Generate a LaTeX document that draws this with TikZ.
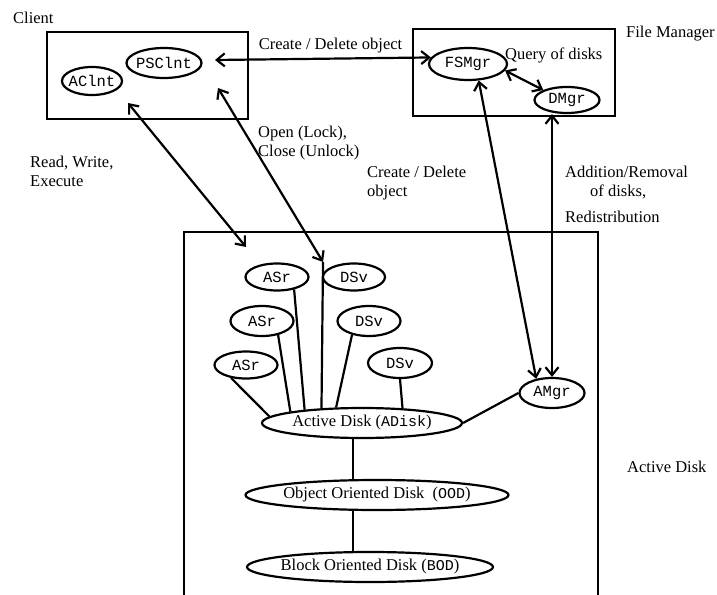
\documentclass[tikz,border=0pt]{standalone}
\usepackage{fontspec}
\setmainfont{Liberation Serif}
\setmonofont{Liberation Mono}
\usepackage{tikz}
\usetikzlibrary{arrows.meta, shapes.geometric}
\usetikzlibrary{calc}

\newcommand{\tcode}[1]{{\fontsize{15bp}{17bp}\ttfamily #1}}

\begin{document}
\begin{tikzpicture}[x=1bp, y=-1bp,
        txt/.style={font=\fontsize{16.5bp}{19.5bp}\selectfont},
        lbl/.style={txt, anchor=base west, inner sep=0pt},
        note/.style={txt, anchor=north west, align=left, inner sep=0pt},
        proc/.style={ellipse, draw, line width=2.2bp, inner sep=0pt, font=\fontsize{15.5bp}{17bp}\ttfamily},
        disk/.style={ellipse, draw, line width=2.2bp, inner sep=0pt, minimum height=30bp, txt},
        link/.style={line width=2.2bp, {Straight Barb[length=8bp, width=13bp]}-{Straight Barb[length=8bp, width=13bp]}},
        wire/.style={line width=2.2bp}]

        \useasboundingbox (0, 0) rectangle (717, 595);

        % the three boxes
        \draw[line width=2.8bp] (47, 32) rectangle (248, 119);
        \draw[line width=2.8bp] (413, 29) rectangle (615, 116);
        \draw[line width=2.8bp] (184, 595) -- (184, 232) -- (598, 232) -- (598, 595);

        % client side
        \node[proc, minimum width=75bp, minimum height=30bp, inner xsep=-2bp] (PSClnt) at (164, 63) {PSClnt};
        \node[proc, minimum width=60bp, minimum height=28bp, inner xsep=-4bp] (AClnt) at (92, 81) {AClnt};

        % file manager side
        \node[proc, minimum width=78bp, minimum height=32bp] (FSMgr) at (468, 64) {FSMgr};
        \node[proc, minimum width=65bp, minimum height=26bp] (DMgr) at (567, 100) {DMgr};

        % active disk
        \node[proc, minimum width=65bp, minimum height=30bp] (AMgr) at (552, 393) {AMgr};

        \node[proc, minimum width=63bp, minimum height=27bp] (ASrA) at (277, 277) {ASr};
        \node[proc, minimum width=63bp, minimum height=30bp] (ASrB) at (262, 321) {ASr};
        \node[proc, minimum width=63bp, minimum height=27bp] (ASrC) at (246, 365) {ASr};

        \node[proc, minimum width=62bp, minimum height=27bp] (DSvA) at (354, 277) {DSv};
        \node[proc, minimum width=63bp, minimum height=30bp] (DSvB) at (369, 321) {DSv};
        \node[proc, minimum width=64bp, minimum height=30bp] (DSvC) at (400, 363) {DSv};

        \node[disk, minimum width=200bp, inner xsep=-3bp] (ADisk) at (362, 423) {Active Disk (\tcode{ADisk})};
        \node[disk, minimum width=263bp, inner xsep=-6bp] (OOD) at (377, 495) {Object Oriented Disk~ (\tcode{OOD})};
        \node[disk, minimum width=246bp, inner xsep=-6.5bp] (BOD) at (370, 567) {Block Oriented Disk (\tcode{BOD})};

        % free ends of the arrows
        \coordinate (cdEnd) at (215, 60);
        \coordinate (rwTop) at (128, 103);
        \coordinate (rwBot) at (246, 247);
        \coordinate (ocTop) at (218, 88);
        \coordinate (dsvTop) at (323, 262);
        \coordinate (axis) at ($(ADisk.south)+(-9, 0)$);

        % arrows
        \draw[link] (cdEnd) -- (FSMgr.170) node[pos=0.535, above=1bp, txt] {Create / Delete object};
        \draw[link] (FSMgr.-10) -- (DMgr.north west);
        \draw[link] (rwTop) -- (rwBot);
        \draw[link] (ocTop) -- (dsvTop);
        \draw[link] (FSMgr.-57) -- (AMgr.138);
        \draw[link] (AMgr.north |- DMgr.south) -- (AMgr.north);

        % plain lines
        \draw[wire] (ASrC.221) -- (ADisk.176);
        \draw[wire] (ASrB.-41) -- (ADisk.171);
        \draw[wire] (ASrA.-36) -- (ADisk.167);
        \draw[wire] (dsvTop) -- (ADisk.160.5);
        \draw[wire] (DSvB.219) -- (ADisk.149);
        \draw[wire] (DSvC.south) -- (ADisk.20);
        \draw[wire] (ADisk.east) -- (AMgr.west);
        \draw[wire] (axis) -- (axis |- OOD.north);
        \draw[wire] (axis |- OOD.south) -- (axis |- BOD.north);

        % labels
        \node[lbl] (clientLbl) at (13, 24) {Client};
        \node[lbl] (fmLbl) at (626, 38) {File Manager};
        \node[lbl] (queryLbl) at (505, 60) {Query of disks};
        \node[lbl] (adLbl) at (627, 472) {Active Disk};
        \node[note] (ocLbl) at (258, 125.5) {Open (Lock),\\Close (Unlock)};
        \node[note] (rwLbl) at (30, 155.5) {Read, Write,\\Execute};
        \node[note] (cdLbl) at (367, 165.5) {Create / Delete\\object};
        \node[note] (addLbl) at (565, 165.5) {Addition/Removal\\\hspace*{25bp}of disks,\\[6bp]Redistribution};

\end{tikzpicture}
\end{document}
